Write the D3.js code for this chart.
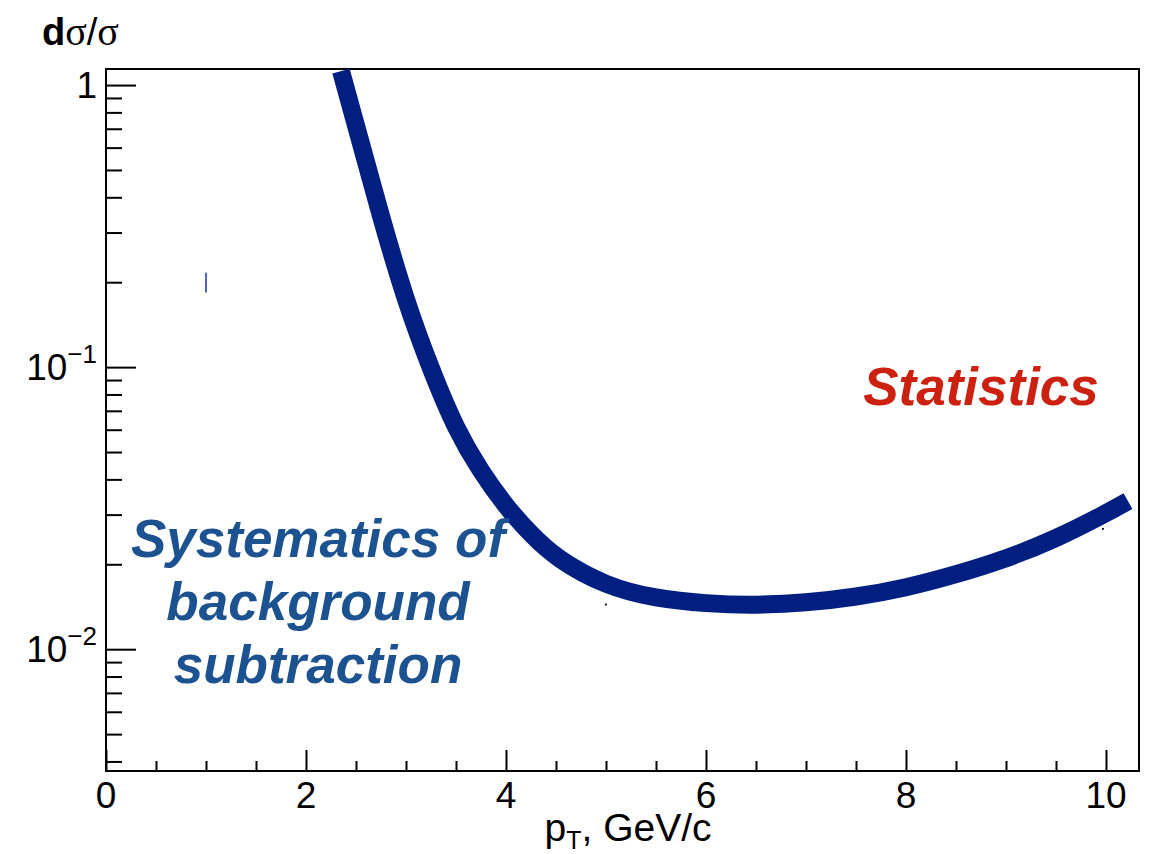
<!DOCTYPE html>
<html>
<head>
<meta charset="utf-8">
<script src="https://cdn.jsdelivr.net/npm/d3@7"></script>
<style>
	body { margin: 0; background: #fff; }
	svg { display: block; font-family: "Liberation Sans", Arial, sans-serif; }
	.tick-label { font-size: 37px; fill: #000; }
	.axis-title { font-size: 39px; fill: #000; }
	.note { font-weight: bold; font-style: italic; font-size: 53px; }
</style>
</head>
<body>
<div id="chart"></div>
<script>
// Values (pT in GeV/c, relative uncertainty)
const ptValues = [2.35, 2.5, 2.75, 3.0, 3.25, 3.5, 3.75, 4.0, 4.25, 4.5, 5.0, 5.5, 6.0, 6.5, 7.0, 7.5, 8.0, 8.5, 9.0, 9.5, 10.0, 10.22];
const sigmaValues = [1.12, 0.72, 0.34, 0.17, 0.098, 0.060, 0.0425, 0.0320, 0.0255, 0.0210, 0.0167, 0.0151, 0.0145, 0.0143, 0.0146, 0.0153, 0.0165, 0.0184, 0.0209, 0.0246, 0.0303, 0.0335];

// stray little markers that are in the original too
const strayX = [1.0, 5.0, 9.97];
const strayY = [0.2, 0.0144, 0.0267];
const strayErr = [0.016, 0, 0];

const xTicks = [0, 2, 4, 6, 8, 10];
const yTicks = [1, 0.1, 0.01];
const yTickLabels = [{base: '1', exp: ''}, {base: '10', exp: '\u22121'}, {base: '10', exp: '\u22122'}];

const noteLeft = ['Systematics of', 'background', 'subtraction'];
const noteRight = 'Statistics';

function drawChart(container) {
	const width = 1154,
		height = 854,
		margin = {top: 69, right: 15, bottom: 83, left: 106},
		innerWidth = width - margin.left - margin.right,
		innerHeight = height - margin.top - margin.bottom;

	const svg = d3.select(container)
		.append('svg')
			.attr('width', width)
			.attr('height', height);

	const g = svg.append('g')
		.attr('transform', `translate(${margin.left},${margin.top})`);

	const x = d3.scaleLinear()
		.domain([0, 10.33])
		.range([0, innerWidth]);

	const y = d3.scaleLog()
		.domain([0.0037, 1.14])
		.range([innerHeight, 0]);

	g.append('clipPath')
		.attr('id', 'clip')
		.append('rect')
			.attr('width', innerWidth)
			.attr('height', innerHeight);

	// x ticks, drawn inward (upward) like ROOT does
	const xMinor = d3.range(0, 10.01, 0.5).filter(v => xTicks.indexOf(v) < 0);
	g.append('g')
		.attr('transform', `translate(0,${innerHeight})`)
		.call(d3.axisBottom(x).tickValues(xTicks).tickSize(-21).tickFormat(''))
		.call(s => s.select('.domain').remove())
		.selectAll('line').attr('stroke-width', 2);
	g.append('g')
		.attr('transform', `translate(0,${innerHeight})`)
		.call(d3.axisBottom(x).tickValues(xMinor).tickSize(-10).tickFormat(''))
		.call(s => s.select('.domain').remove())
		.selectAll('line').attr('stroke-width', 2);

	g.selectAll('.x-label')
		.data(xTicks)
		.enter()
		.append('text')
			.classed('tick-label', true)
			.attr('x', d => x(d))
			.attr('y', innerHeight + 37)
			.attr('text-anchor', 'middle')
			.text(d => d);

	// y ticks, log scale, 2..9 minors in each decade
	const yMinor = [];
	[0.001, 0.01, 0.1, 1].forEach(dec => {
		for (let k = 2; k <= 9; k++) {
			const v = dec * k;
			if (v >= y.domain()[0] && v <= y.domain()[1]) yMinor.push(v);
		}
	});
	g.append('g')
		.call(d3.axisLeft(y).tickValues(yTicks).tickSize(-30).tickFormat(''))
		.call(s => s.select('.domain').remove())
		.selectAll('line').attr('stroke-width', 2);
	g.append('g')
		.call(d3.axisLeft(y).tickValues(yMinor).tickSize(-16).tickFormat(''))
		.call(s => s.select('.domain').remove())
		.selectAll('line').attr('stroke-width', 2);

	const yLab = g.selectAll('.y-label')
		.data(yTicks)
		.enter()
		.append('text')
			.classed('tick-label', true)
			.attr('x', -9)
			.attr('y', d => y(d) + 13)
			.attr('text-anchor', 'end');
	yLab.append('tspan')
		.text((d, i) => yTickLabels[i].base);
	yLab.append('tspan')
		.attr('dy', -17)
		.style('font-size', '26px')
		.text((d, i) => yTickLabels[i].exp);

	// frame
	g.append('rect')
		.attr('width', innerWidth)
		.attr('height', innerHeight)
		.attr('fill', 'none')
		.attr('stroke', '#000')
		.attr('stroke-width', 2);

	// the curve -- basis spline so the knee stays smooth
	const line = d3.line()
		.x((d, i) => x(ptValues[i]))
		.y(d => y(d))
		.curve(d3.curveBasis);

	g.append('path')
		.datum(sigmaValues)
		.attr('clip-path', 'url(#clip)')
		.attr('d', line)
		.attr('fill', 'none')
		.attr('stroke', '#011f80')
		.attr('stroke-width', 18);

	// stray markers
	strayX.forEach((sx, i) => {
		if (strayErr[i] > 0) {
			g.append('line')
				.attr('x1', x(sx)).attr('x2', x(sx))
				.attr('y1', y(strayY[i] - strayErr[i]))
				.attr('y2', y(strayY[i] + strayErr[i]))
				.attr('stroke', '#5363b8')
				.attr('stroke-width', 2);
		} else {
			g.append('rect')
				.attr('x', x(sx) - 1)
				.attr('y', y(strayY[i]) - 1)
				.attr('width', 2)
				.attr('height', 2)
				.attr('fill', '#222');
		}
	});

	// axis titles
	const xt = svg.append('text')
		.classed('axis-title', true)
		.attr('x', 628)
		.attr('y', 841)
		.attr('text-anchor', 'middle');
	xt.append('tspan').text('p');
	xt.append('tspan').attr('dy', 8).style('font-size', '25px').text('T');
	xt.append('tspan').attr('dy', -8).text(', GeV/c');

	const yt = svg.append('text')
		.attr('x', 42)
		.attr('y', 45)
		.style('font-size', '38px');
	yt.append('tspan').style('font-weight', 'bold').text('d');
	yt.append('tspan').style('font-family', '"Liberation Serif", serif').style('font-size', '40px').text('\u03c3');
	yt.append('tspan').text('/');
	yt.append('tspan').style('font-family', '"Liberation Serif", serif').style('font-size', '40px').text('\u03c3');

	// annotations
	svg.append('text')
		.classed('note', true)
		.attr('x', 981)
		.attr('y', 405)
		.attr('text-anchor', 'middle')
		.attr('fill', '#cc2010')
		.text(noteRight);

	svg.selectAll('.note-left')
		.data(noteLeft)
		.enter()
		.append('text')
			.classed('note', true)
			.attr('x', 318)
			.attr('y', (d, i) => 557 + i * 63)
			.attr('text-anchor', 'middle')
			.attr('fill', '#1c5290')
			.text(d => d);
}

drawChart('#chart');
</script>
</body>
</html>
